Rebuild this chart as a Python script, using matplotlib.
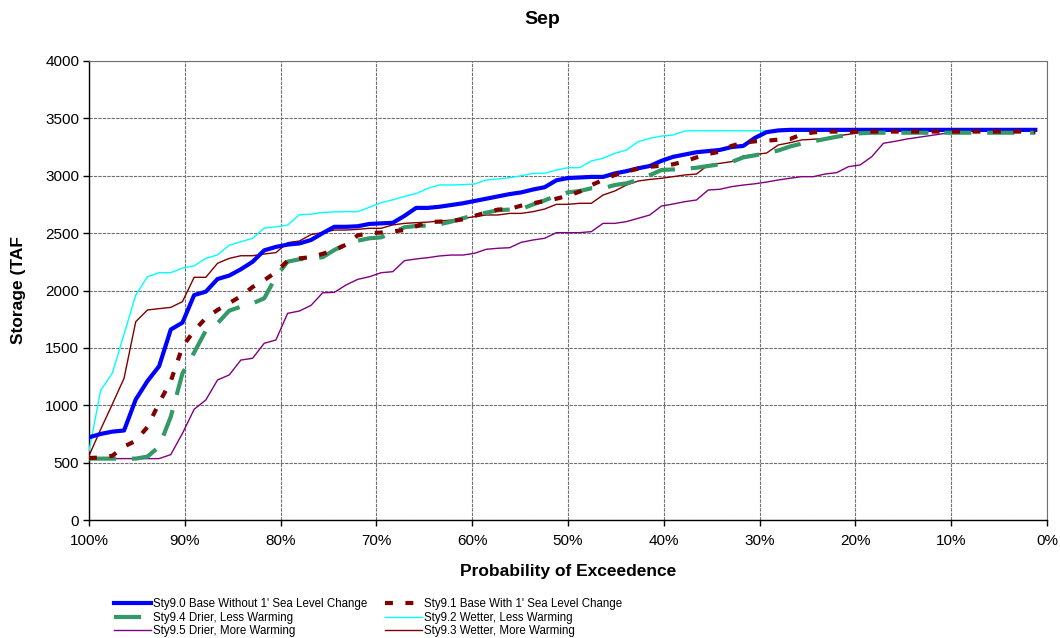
import numpy as np
import matplotlib
matplotlib.use("Agg")
import matplotlib.pyplot as plt
from matplotlib.ticker import FuncFormatter

plt.rcParams["font.family"] = ["Liberation Sans", "DejaVu Sans"]

# storage (TAF) per exceedence rank, 82 years
sty90 = [720, 750, 770, 780, 1050, 1210, 1340, 1660, 1720, 1960,
         1990, 2100, 2130, 2185, 2250, 2350, 2380, 2400, 2410, 2440,
         2500, 2555, 2555, 2560, 2580, 2585, 2590, 2650, 2720, 2720,
         2730, 2745, 2760, 2780, 2800, 2820, 2840, 2855, 2880, 2900,
         2960, 2980, 2985, 2990, 2990, 3020, 3040, 3065, 3085, 3130,
         3165, 3185, 3205, 3215, 3225, 3250, 3260, 3330, 3380, 3395,
         3400, 3400, 3400, 3400, 3400, 3400, 3400, 3400, 3400, 3400,
         3400, 3400, 3400, 3400, 3400, 3400, 3400, 3400, 3400, 3400,
         3400, 3400]
sty91 = [540, 545, 560, 640, 690, 810, 1020, 1210, 1510, 1650,
         1760, 1830, 1890, 1950, 2030, 2090, 2160, 2260, 2280, 2290,
         2320, 2350, 2400, 2480, 2500, 2505, 2515, 2527, 2560, 2597,
         2600, 2605, 2620, 2650, 2680, 2705, 2710, 2740, 2760, 2780,
         2800, 2826, 2862, 2919, 2963, 3007, 3036, 3062, 3078, 3088,
         3100, 3125, 3160, 3190, 3210, 3260, 3288, 3300, 3305, 3315,
         3320, 3360, 3378, 3385, 3385, 3385, 3385, 3385, 3385, 3385,
         3385, 3385, 3385, 3385, 3385, 3385, 3385, 3385, 3385, 3385,
         3385, 3385]
sty94 = [535, 535, 535, 535, 535, 552, 639, 900, 1278, 1460,
         1650, 1714, 1824, 1859, 1888, 1932, 2120, 2251, 2272, 2280,
         2290, 2353, 2402, 2434, 2455, 2463, 2504, 2551, 2562, 2566,
         2577, 2600, 2629, 2658, 2678, 2700, 2705, 2710, 2750, 2785,
         2826, 2855, 2867, 2891, 2891, 2919, 2934, 2963, 3005, 3050,
         3055, 3060, 3070, 3085, 3100, 3120, 3160, 3178, 3198, 3220,
         3255, 3280, 3300, 3320, 3340, 3355, 3370, 3375, 3375, 3375,
         3375, 3375, 3375, 3375, 3375, 3375, 3375, 3375, 3375, 3375,
         3375, 3375]
sty92 = [600, 1130, 1280, 1620, 1960, 2120, 2155, 2155, 2195, 2215,
         2280, 2310, 2395, 2425, 2455, 2545, 2555, 2570, 2660, 2665,
         2680, 2685, 2687, 2687, 2725, 2765, 2790, 2820, 2845, 2890,
         2920, 2920, 2922, 2928, 2963, 2972, 2983, 3000, 3021, 3021,
         3050, 3070, 3070, 3129, 3152, 3195, 3224, 3297, 3326, 3346,
         3355, 3390, 3392, 3392, 3392, 3392, 3392, 3392, 3392, 3392,
         3392, 3392, 3392, 3392, 3392, 3392, 3392, 3392, 3392, 3392,
         3392, 3392, 3392, 3392, 3392, 3392, 3392, 3392, 3392, 3392,
         3392, 3392]
sty95 = [535, 535, 535, 535, 535, 535, 535, 570, 755, 965,
         1046, 1220, 1264, 1394, 1409, 1540, 1569, 1801, 1821, 1870,
         1980, 1984, 2048, 2097, 2120, 2155, 2164, 2260, 2275, 2286,
         2301, 2309, 2309, 2324, 2359, 2368, 2373, 2420, 2440, 2455,
         2504, 2504, 2504, 2513, 2585, 2585, 2600, 2629, 2658, 2736,
         2754, 2774, 2789, 2876, 2882, 2905, 2919, 2930, 2945, 2963,
         2978, 2992, 2992, 3015, 3027, 3079, 3094, 3166, 3283, 3300,
         3320, 3335, 3350, 3365, 3380, 3390, 3390, 3390, 3390, 3390,
         3390, 3390]
sty93 = [560, 790, 1010, 1235, 1728, 1830, 1842, 1853, 1903, 2115,
         2115, 2237, 2280, 2303, 2303, 2318, 2330, 2417, 2431, 2487,
         2505, 2527, 2527, 2533, 2542, 2542, 2571, 2585, 2591, 2596,
         2605, 2614, 2629, 2643, 2658, 2658, 2672, 2672, 2687, 2710,
         2751, 2751, 2760, 2760, 2832, 2867, 2919, 2954, 2968, 2978,
         2992, 3007, 3015, 3094, 3108, 3123, 3172, 3185, 3198, 3268,
         3288, 3312, 3318, 3326, 3346, 3361, 3375, 3384, 3390, 3390,
         3390, 3390, 3390, 3390, 3390, 3390, 3390, 3390, 3390, 3390,
         3390, 3390]

labels = ["Sty9.0 Base Without 1' Sea Level Change",
          "Sty9.1 Base With 1' Sea Level Change",
          "Sty9.4 Drier, Less Warming",
          "Sty9.2 Wetter, Less Warming",
          "Sty9.5 Drier, More Warming",
          "Sty9.3 Wetter, More Warming"]

n = len(sty90)
exceed = 1 - np.arange(n) / n

fig = plt.figure(figsize=(10.6, 6.38), dpi=100)
ax = fig.add_axes([89 / 1060, 1 - 520 / 638, 958 / 1060, 459 / 638])

h92, = ax.plot(exceed, sty92, color="#00FFFF", lw=1.0, zorder=3)
h95, = ax.plot(exceed, sty95, color="#800080", lw=1.0, zorder=3)
h93, = ax.plot(exceed, sty93, color="#800000", lw=1.0, zorder=3)
h90, = ax.plot(exceed, sty90, color="#0000FF", lw=3.0, zorder=4)
h94, = ax.plot(exceed, sty94, color="#339966", lw=3.0, zorder=5,
               dashes=(6.5, 3.8), dash_capstyle="butt")
h91, = ax.plot(exceed, sty91, color="#800000", lw=3.0, zorder=6,
               dashes=(1.9, 3.0), dash_capstyle="butt")

ax.set_xlim(1, 0)
ax.set_ylim(0, 4000)
ax.set_xticks(np.arange(0, 1.01, 0.1))
ax.set_yticks(np.arange(0, 4001, 500))
ax.xaxis.set_major_formatter(FuncFormatter(lambda v, p: f"{v * 100:.0f}%"))
ax.tick_params(axis="both", direction="out", length=4, width=1, labelsize=11, color="black")
ax.tick_params(axis="x", pad=6)
ax.tick_params(axis="y", pad=3)
ax.grid(True, color="#707070", lw=0.8, ls=(0, (3, 1)), zorder=1)
for s in ("left", "bottom"):
    ax.spines[s].set_color("black")
    ax.spines[s].set_linewidth(1.0)
for s in ("top", "right"):
    ax.spines[s].set_color("#707070")
    ax.spines[s].set_linewidth(0.8)

ax.set_xlabel("Probability of Exceedence", fontsize=12.5, fontweight="bold")
ax.xaxis.set_label_coords(0.5, -0.095)
ax.set_ylabel("Storage (TAF", fontsize=12.5, fontweight="bold")
ax.yaxis.set_label_coords(-0.066, 0.5)
fig.text(542 / 1060, 1 - 19 / 638, "Sep", ha="center", va="center",
         fontsize=14, fontweight="bold")

# two legend columns, filled row by row like the original
leg_kw = dict(frameon=False, fontsize=8.3, borderpad=0, borderaxespad=0,
              handlelength=3.2, handletextpad=0.2, labelspacing=0.15,
              loc="upper left", bbox_transform=fig.transFigure)
leg1 = fig.legend([h90, h94, h95], [labels[0], labels[2], labels[4]],
                  bbox_to_anchor=(114 / 1060, 1 - 598 / 638), **leg_kw)
leg2 = fig.legend([h91, h92, h93], [labels[1], labels[3], labels[5]],
                  bbox_to_anchor=(385 / 1060, 1 - 598 / 638), **leg_kw)

fig.savefig("out.png", dpi=100)
